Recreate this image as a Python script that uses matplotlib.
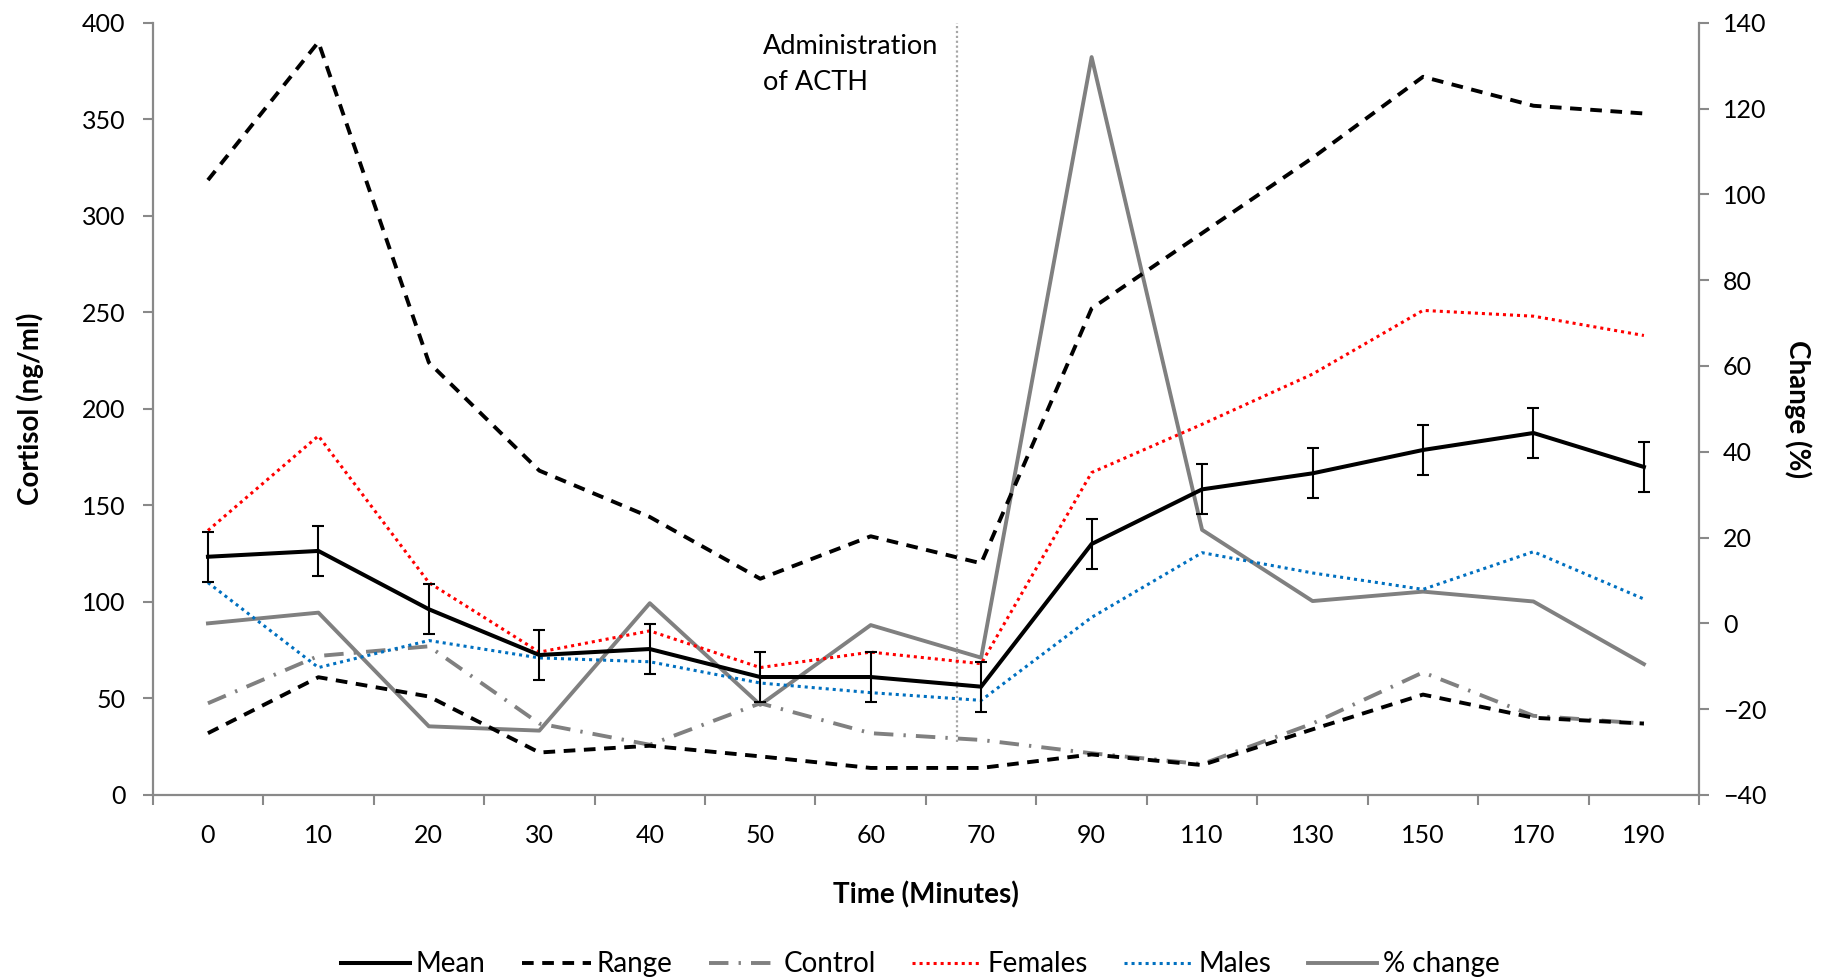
import matplotlib
matplotlib.use('Agg')
import matplotlib.pyplot as plt
import numpy as np
from matplotlib.ticker import FixedLocator, NullFormatter

plt.rcParams['font.family'] = ['Lato', 'DejaVu Sans']

categories = ['0', '10', '20', '30', '40', '50', '60', '70', '90', '110', '130', '150', '170', '190']
mean = [123.4, 126.4, 96.2, 72.5, 75.6, 61.1, 61.1, 56.1, 130.0, 158.3, 166.6, 178.7, 187.5, 169.9]
mean_err = [13, 13, 13, 13, 13, 13, 13, 13, 13, 13, 13, 13, 13, 13]
range_hi = [318.5, 390, 224, 168, 144, 112, 134, 120, 252, 291, 330, 372, 357, 353]
range_lo = [32, 61, 51, 22, 25.5, 20, 14, 14, 21, 15.5, 34, 52, 40, 37]
control = [47.5, 72, 77, 37, 26, 47.5, 32, 28.5, 21.6, 16, 37, 63.5, 41, 37]
females = [137, 186, 110, 74, 85, 66, 74, 68, 167, 192, 218, 251, 248, 238]
males = [110, 66, 80, 71, 69, 58, 53, 49, 92, 125.5, 115, 106.5, 126, 101.5]
pct_change = [0, 2.5, -24, -25, 4.7, -19, -0.4, -8, 132, 21.8, 5.2, 7.4, 5.1, -9.5]

acth_pos = 6.78
acth_bottom = 27.6

GRAY = '#898989'
LINEGRAY = '#808080'

fig = plt.figure(figsize=(18.29, 9.8), dpi=100)
ax = fig.add_axes([0.0835, 0.1888, 0.929 - 0.0835, 0.9768 - 0.1888])
ax2 = ax.twinx()

x = np.arange(len(categories))

# vertical dotted marker
ax.plot([acth_pos, acth_pos], [acth_bottom, 400], color='#A6A6A6', lw=1.6,
        dashes=(1, 1.2), zorder=1)
ax.text(acth_pos - 0.17, 394, 'Administration\nof ACTH', fontsize=19.5,
        va='top', ha='right', multialignment='left', linespacing=1.55)

l_mean, = ax.plot(x, mean, color='black', lw=2.9, solid_joinstyle='miter', zorder=5, label='Mean')
ax.errorbar(x, mean, yerr=mean_err, fmt='none', ecolor='black', elinewidth=1.5,
            capsize=4.5, capthick=1.5, zorder=5)
l_rng, = ax.plot(x, range_hi, color='black', lw=2.8, dashes=(3.0, 2.2), zorder=4, label='Range')
ax.plot(x, range_lo, color='black', lw=2.8, dashes=(3.0, 2.2), zorder=4)
l_ctl, = ax.plot(x, control, color=LINEGRAY, lw=2.8, dashes=(5.0, 2.6, 0.6, 2.6), zorder=3, label='Control')
l_fem, = ax.plot(x, females, color='#FF0000', lw=2.2, dashes=(1, 1.3), zorder=3, label='Females')
l_mal, = ax.plot(x, males, color='#0070C0', lw=2.2, dashes=(1, 1.3), zorder=3, label='Males')
l_pct, = ax2.plot(x, pct_change, color=LINEGRAY, lw=2.8, zorder=3, label='% change')

ax.set_xlim(-0.5, len(categories) - 0.5)
ax.set_ylim(0, 400)
ax2.set_ylim(-40, 140)
ax.set_yticks(np.arange(0, 401, 50))
ax2.set_yticks(np.arange(-40, 141, 20))

ax.xaxis.set_major_locator(FixedLocator(np.arange(-0.5, len(categories), 1.0)))
ax.xaxis.set_major_formatter(NullFormatter())
ax.xaxis.set_minor_locator(FixedLocator(x))
ax.set_xticklabels(categories, minor=True)
ax.tick_params(axis='x', which='major', direction='out', length=7, width=1.5, color=GRAY)
ax.tick_params(axis='x', which='minor', length=0, pad=21, labelsize=18)
ax.tick_params(axis='y', direction='out', length=7, width=1.5, color=GRAY, labelsize=18, pad=12.5)
ax2.tick_params(axis='y', direction='out', length=7, width=1.5, color=GRAY, labelsize=18, pad=10)

for a in (ax, ax2):
    a.spines['top'].set_visible(False)
    for s in ('left', 'right', 'bottom'):
        a.spines[s].set_color(GRAY)
        a.spines[s].set_linewidth(1.6)
ax.spines['right'].set_visible(False)
ax2.spines['left'].set_visible(False)
ax2.spines['bottom'].set_visible(False)
ax.set_zorder(ax2.get_zorder() + 1)
ax.patch.set_visible(False)

fig.text(0.0165, 0.5826, 'Cortisol (ng/ml)', rotation=90, fontsize=20, fontweight='bold',
         ha='center', va='center')
fig.text(0.983, 0.5826, 'Change (%)', rotation=-90, fontsize=20, fontweight='bold',
         ha='center', va='center')
fig.text(0.5065, 0.087, 'Time (Minutes)', fontsize=20, fontweight='bold', ha='center', va='center')

fig.legend(handles=[l_mean, l_rng, l_ctl, l_fem, l_mal, l_pct], loc='center',
           bbox_to_anchor=(0.503, 0.016), ncol=6, frameon=False, fontsize=20,
           handlelength=2.5, handletextpad=0.2, columnspacing=1.3)

fig.savefig('out.png', dpi=100)
